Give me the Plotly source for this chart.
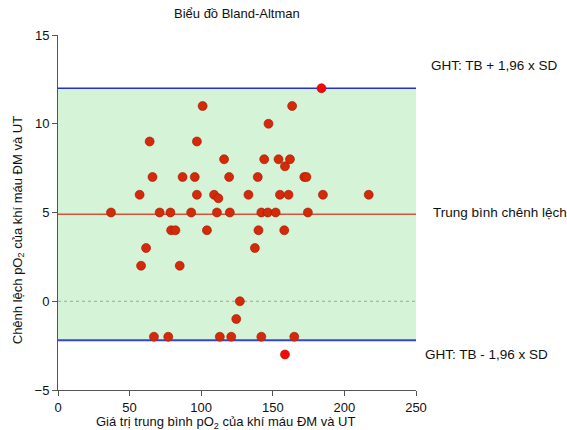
import plotly.graph_objects as go

# Data: mean of the two measurements (x) and their difference (y)
mean_values = [37, 57, 58, 61.5, 64, 66, 67, 71, 77, 78.5, 79, 82, 85, 87, 93, 95.5, 97, 97,
               101, 104, 109, 111, 112, 113, 116, 119.5, 120, 121, 124.5, 127, 133, 137.5,
               139.5, 140, 142, 142, 144, 146.5, 147, 152, 154, 155, 158, 158.5, 161, 162,
               163.5, 165, 172, 173.5, 174.5, 185, 217]
diff_values = [5, 6, 2, 3, 9, 7, -2, 5, -2, 5, 4, 4, 2, 7, 5, 7, 9, 6,
               11, 4, 6, 5, 5.8, -2, 8, 7, 5, -2, -1, 0, 6, 3,
               7, 4, 5, -2, 8, 5, 10, 5, 8, 6, 4, 7.6, 6, 8,
               11, -2, 7, 7, 5, 6, 6]
outlier_mean = [184, 158.5]
outlier_diff = [12, -3]

mean_diff = 4.9
upper_loa = 12.0
lower_loa = -2.2

x_ticks = [0, 50, 100, 150, 200, 250]
y_ticks = [-5, 0, 5, 10, 15]

FONT = "Liberation Sans, Arial, sans-serif"

fig = go.Figure()

fig.add_trace(go.Scatter(
    x=mean_values, y=diff_values, mode="markers",
    marker=dict(size=9, color="#d42a0a", line=dict(width=0.6, color="#a01800")),
    showlegend=False, cliponaxis=False))
fig.add_trace(go.Scatter(
    x=outlier_mean, y=outlier_diff, mode="markers",
    marker=dict(size=9, color="#f00a0a", line=dict(width=0.6, color="#c00000")),
    showlegend=False, cliponaxis=False))

shapes = [
    dict(type="rect", xref="x", yref="y", x0=0, x1=250, y0=lower_loa, y1=upper_loa,
         fillcolor="#d5f4d7", line=dict(width=0), layer="below"),
    dict(type="line", xref="x", yref="y", x0=0, x1=250, y0=upper_loa, y1=upper_loa,
         line=dict(color="#2233cc", width=1.5), layer="below"),
    dict(type="line", xref="x", yref="y", x0=0, x1=250, y0=lower_loa, y1=lower_loa,
         line=dict(color="#3344dd", width=2), layer="below"),
    dict(type="line", xref="x", yref="y", x0=0, x1=250, y0=mean_diff, y1=mean_diff,
         line=dict(color="#d9533a", width=1.5), layer="below"),
    dict(type="line", xref="x", yref="y", x0=0, x1=250, y0=0, y1=0,
         line=dict(color="#a0a0a0", width=1, dash="dot"), layer="below"),
]

annotations = [
    dict(text="GHT: TB + 1,96 x SD", xref="paper", yref="y", x=1.035, y=13.3,
         xanchor="left", yanchor="middle", showarrow=False,
         font=dict(size=13.5, color="#111", family=FONT)),
    dict(text="Trung bình chênh lệch", xref="paper", yref="y", x=1.042, y=mean_diff + 0.1,
         xanchor="left", yanchor="middle", showarrow=False,
         font=dict(size=13.5, color="#111", family=FONT)),
    dict(text="GHT: TB - 1,96 x SD", xref="paper", yref="y", x=1.02, y=-3.0,
         xanchor="left", yanchor="middle", showarrow=False,
         font=dict(size=13.5, color="#111", family=FONT)),
    dict(text="Biểu đồ Bland-Altman", xref="paper", yref="paper", x=0.5, y=1.0,
         yshift=12, xanchor="center", yanchor="bottom", showarrow=False,
         font=dict(size=13, color="#111", family=FONT)),
    dict(text="Giá trị trung bình pO<sub>2</sub> của khí máu ĐM và UT", xref="paper",
         yref="paper", x=0.469, y=0, yshift=-22, xanchor="center", yanchor="top",
         showarrow=False, font=dict(size=13, color="#111", family=FONT)),
    dict(text="Chênh lệch pO<sub>2</sub> của khí máu ĐM và UT", xref="paper",
         yref="paper", x=0, xshift=-40, y=0.45, xanchor="center", yanchor="middle",
         textangle=-90, showarrow=False, font=dict(size=13, color="#111", family=FONT)),
]

fig.update_layout(
    width=567, height=430,
    margin=dict(l=58, r=151, t=35, b=40, pad=0),
    paper_bgcolor="white", plot_bgcolor="white",
    font=dict(family=FONT, size=13, color="#111"),
    shapes=shapes, annotations=annotations,
    xaxis=dict(range=[0, 250], tickvals=x_ticks, showgrid=False, zeroline=False,
               showline=True, linecolor="#555", linewidth=1, ticks="outside",
               ticklen=5, tickcolor="#555", tickfont=dict(size=13, color="#111")),
    yaxis=dict(range=[-5, 15], tickvals=y_ticks, showgrid=False, zeroline=False,
               showline=True, linecolor="#555", linewidth=1, ticks="outside",
               ticklen=5, tickcolor="#555", tickfont=dict(size=13, color="#111")),
)

fig.write_html("out.html")
